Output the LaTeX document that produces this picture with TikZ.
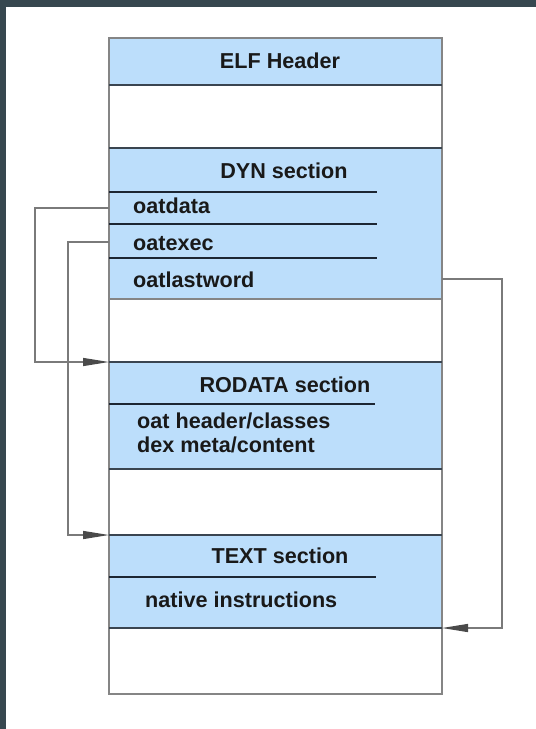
\documentclass[tikz,border=0pt]{standalone}
\usepackage{fontspec}
\setmainfont{Liberation Sans}
\usetikzlibrary{arrows.meta}
\definecolor{frame}{HTML}{37474F}
\definecolor{secblue}{RGB}{188,222,251}
\definecolor{edgegray}{HTML}{858585}
\definecolor{divider}{HTML}{3A4550}
\definecolor{sepline}{HTML}{1C2633}
\definecolor{wiregray}{HTML}{7A7A7A}
\definecolor{tipgray}{HTML}{4A4A4A}
\begin{document}
\begin{tikzpicture}[x=1pt,y=-1pt,
  rowbox/.style={draw=edgegray,line width=1.3pt,minimum width=333pt,inner sep=0pt,outer sep=0pt,anchor=north west},
  bluerow/.style={rowbox,fill=secblue},
  whiterow/.style={rowbox,fill=white},
  lbl/.style={font=\fontsize{21.6}{26}\selectfont\bfseries,text=black!90,inner sep=0pt},
  sepl/.style={draw=sepline,line width=1.2pt},
  divl/.style={draw=divider,line width=1.4pt},
  wire/.style={draw=wiregray,line width=1.3pt},
  ptr/.style={wire,-{Triangle[length=26pt,width=8pt,color=tipgray]}}]
\fill[white] (0,0) rectangle (536,729);
\fill[frame] (0,0) rectangle (6,729);
\fill[frame] (0,0) rectangle (536,7);
\useasboundingbox (0,0) rectangle (536,729);

% rows
\node[bluerow,minimum height=47pt] (elf) at (109,38) {};
\node[whiterow,minimum height=63pt] (gapA) at (109,85) {};
\node[bluerow,minimum height=151pt] (dyn) at (109,148) {};
\node[whiterow,minimum height=63pt] (gapB) at (109,299) {};
\node[bluerow,minimum height=107pt] (rodata) at (109,362) {};
\node[whiterow,minimum height=66pt] (gapC) at (109,469) {};
\node[bluerow,minimum height=93pt] (textsec) at (109,535) {};
\node[whiterow,minimum height=66pt] (gapD) at (109,628) {};

% dividers
\draw[divl] (elf.south west) -- (elf.south east);
\draw[divl] (gapA.south west) -- (gapA.south east);
\draw[divl] (gapB.south west) -- (gapB.south east);
\draw[divl] (rodata.south west) -- (rodata.south east);
\draw[divl] (gapC.south west) -- (gapC.south east);
\draw[divl] (textsec.south west) -- (textsec.south east);

% inner separators
\draw[sepl] (109,192) -- (377,192);
\draw[sepl] (109,224) -- (377,224);
\draw[sepl] (109,258) -- (377,258);
\draw[sepl] (109,404) -- (375,404);
\draw[sepl] (109,577) -- (376,577);

% labels
\node[lbl,anchor=base] (elfl) at (280,68) {ELF Header};
\node[lbl,anchor=base] (dynl) at (284,178) {DYN section};
\node[lbl,anchor=base west] (oatdata) at (133,213) {oatdata};
\node[lbl,anchor=base west] (oatexec) at (133,250) {oatexec};
\node[lbl,anchor=base west] (oatlast) at (133,287) {oatlastword};
\node[lbl,anchor=base] (rodl) at (285,392) {RODATA section};
\node[lbl,anchor=base west] (oathdr) at (137,428) {oat header/classes};
\node[lbl,anchor=base west] (dexmeta) at (137,452) {dex meta/content};
\node[lbl,anchor=base] (textl) at (280,563) {TEXT section};
\node[lbl,anchor=base west] (native) at (145,607) {native instructions};

% connectors
\coordinate (srcdata) at (109,208);
\coordinate (srcexec) at (109,242);
\coordinate (srclast) at (442,279);
\draw[ptr] (srcdata) -- ++(-74,0) |- (rodata.north west);
\draw[ptr] (srcexec) -- ++(-41,0) |- (textsec.north west);
\draw[ptr] (srclast) -- ++(60,0) |- (textsec.south east);
\end{tikzpicture}
\end{document}
